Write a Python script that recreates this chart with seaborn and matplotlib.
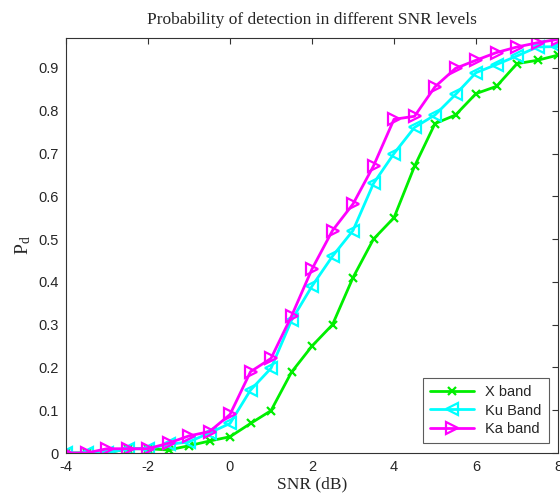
import numpy as np
import pandas as pd
import matplotlib
matplotlib.use("Agg")
import matplotlib.pyplot as plt
import seaborn as sns

snr = [-4, -3.5, -3, -2.5, -2, -1.5, -1, -0.5, 0, 0.5, 1, 1.5, 2, 2.5, 3,
       3.5, 4, 4.5, 5, 5.5, 6, 6.5, 7, 7.5, 8]
x_band = [0, 0, 0, 0.01, 0.01, 0.007, 0.017, 0.028, 0.038, 0.069, 0.099, 0.189, 0.25,
          0.30, 0.41, 0.50, 0.55, 0.67, 0.77, 0.79, 0.84, 0.857, 0.91, 0.918, 0.93]
ku_band = [0, 0, 0, 0.01, 0.01, 0.02, 0.026, 0.047, 0.069, 0.147, 0.198, 0.31, 0.39,
           0.46, 0.52, 0.63, 0.70, 0.761, 0.79, 0.838, 0.889, 0.908, 0.928, 0.949, 0.95]
ka_band = [0, 0, 0.01, 0.01, 0.01, 0.023, 0.04, 0.05, 0.09, 0.19, 0.221, 0.32, 0.43,
           0.52, 0.582, 0.671, 0.78, 0.787, 0.856, 0.899, 0.918, 0.936, 0.949, 0.959, 0.967]
labels = ["X band", "Ku Band", "Ka band"]
colors = ["#00EE00", "#00FFFF", "#FF00FF"]
markers = ["x", "<", ">"]
xticks = [-4, -2, 0, 2, 4, 6, 8]
yticks = [0, 0.1, 0.2, 0.3, 0.4, 0.5, 0.6, 0.7, 0.8, 0.9]

sns.set_style("white")
plt.rcParams["font.family"] = ["Liberation Sans", "DejaVu Sans"]

fig = plt.figure(figsize=(5.6, 4.94), dpi=100)
ax = fig.add_axes([66/560, 1-453/494, (558-66)/560, (453-38)/494])

for series, lab, col, mk in zip([x_band, ku_band, ka_band], labels, colors, markers):
    df = pd.DataFrame({"snr": snr, "pd": series})
    sns.lineplot(data=df, x="snr", y="pd", ax=ax, color=col, marker=mk,
                 markersize=8 if mk != "x" else 6, mfc="none", mec=col, mew=1.6,
                 linewidth=2, label=lab)

ax.set_xlim(-4, 8)
ax.set_ylim(0, 0.97)
ax.set_xticks(xticks)
ax.set_xticklabels([str(t) for t in xticks])
ax.set_yticks(yticks)
ax.set_yticklabels(["0"] + [f"{t:.1f}" for t in yticks[1:]])
ax.tick_params(direction="in", length=4, width=0.8, color="#333333",
               labelsize=10.5, top=True, right=True, pad=5)
for s in ax.spines.values():
    s.set_color("#333333")
    s.set_linewidth(0.8)

ax.set_title("Probability of detection in different SNR levels",
             family="Liberation Serif", fontsize=12.5, pad=10)
ax.set_xlabel("SNR (dB)", family="Liberation Serif", fontsize=12.5, labelpad=2)
ax.set_ylabel(r"$\mathregular{P_d}$", family="Liberation Serif", fontsize=14, labelpad=4)

leg = ax.legend(loc="lower right", fontsize=10.5, frameon=True, fancybox=False,
                edgecolor="#333333", borderpad=0.5, handlelength=3,
                bbox_to_anchor=(0.985, 0.02), borderaxespad=0.1, labelspacing=0.3)
leg.get_frame().set_linewidth(0.8)

fig.savefig("out.png", dpi=100)
